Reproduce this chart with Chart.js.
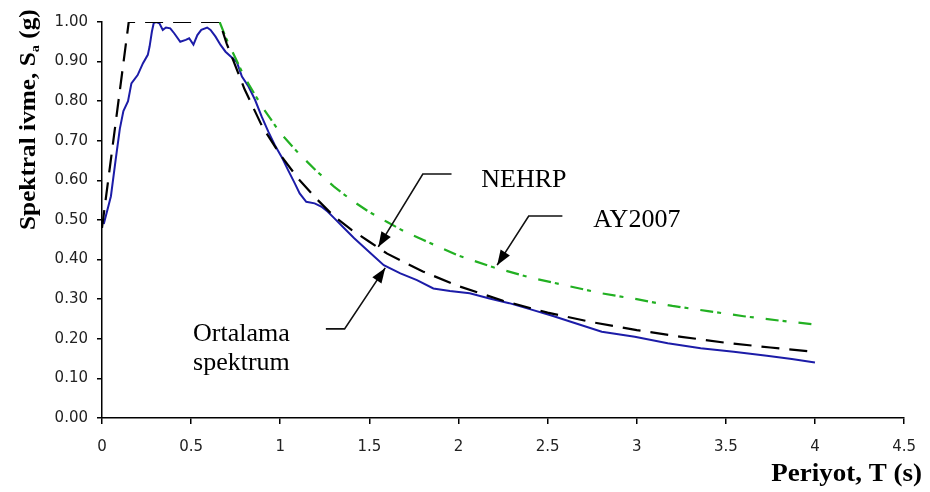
<!DOCTYPE html>
<html>
<head>
<meta charset="utf-8">
<title>Spektral ivme</title>
<script src="https://cdn.jsdelivr.net/npm/chart.js@4"></script>
<style>
  html, body { margin: 0; padding: 0; background: #fff; }
  #wrap { width: 930px; height: 492px; }
</style>
</head>
<body>
<div id="wrap"><canvas id="spectrum" width="930" height="492"></canvas></div>
<script>
// Ortalama spektrum (mean spectrum)
const meanT  = [0.01, 0.05, 0.076, 0.10, 0.12, 0.146, 0.165, 0.20, 0.23, 0.257, 0.267, 0.28, 0.29, 0.304,
                0.322, 0.341, 0.359, 0.383, 0.406, 0.439, 0.47, 0.489, 0.513, 0.535, 0.557, 0.59, 0.609,
                0.637, 0.665, 0.693, 0.73, 0.757, 0.785, 0.822, 0.859, 0.896, 0.933, 0.97, 1.007, 1.044,
                1.081, 1.109, 1.146, 1.193, 1.23, 1.267, 1.304, 1.359, 1.415, 1.507, 1.581, 1.674, 1.767,
                1.859, 1.952, 2.063, 2.174, 2.285, 2.40, 2.526, 2.63, 2.804, 2.989, 3.174, 3.359, 3.544,
                3.73, 3.87, 4.0];
const meanSa = [0.49, 0.56, 0.65, 0.73, 0.775, 0.80, 0.845, 0.866, 0.896, 0.917, 0.938, 0.976, 0.997, 1.00,
                0.997, 0.98, 0.986, 0.984, 0.971, 0.95, 0.955, 0.959, 0.943, 0.967, 0.98, 0.986, 0.98,
                0.963, 0.942, 0.925, 0.91, 0.898, 0.862, 0.837, 0.803, 0.761, 0.723, 0.689, 0.66, 0.626,
                0.593, 0.567, 0.546, 0.542, 0.534, 0.521, 0.504, 0.479, 0.454, 0.416, 0.386, 0.365, 0.348,
                0.327, 0.321, 0.315, 0.302, 0.29, 0.275, 0.258, 0.243, 0.218, 0.205, 0.189, 0.176, 0.167,
                0.157, 0.149, 0.14];

// NEHRP design spectrum
const nehrpT  = [0, 0.15, 0.66, 0.7, 0.8, 0.9, 1.0, 1.1, 1.2, 1.3, 1.4, 1.5, 1.6, 1.8, 2.0, 2.25, 2.5, 2.75,
                 3.0, 3.25, 3.5, 3.75, 4.0];
const nehrpSa = [0.48, 1.00, 1.00, 0.945, 0.83, 0.735, 0.665, 0.605, 0.555, 0.51, 0.475, 0.445, 0.415, 0.37,
                 0.333, 0.296, 0.266, 0.242, 0.222, 0.205, 0.19, 0.178, 0.167];

// AY2007 design spectrum
const ayT  = [0.66, 0.7, 0.8, 0.9, 1.0, 1.1, 1.2, 1.3, 1.4, 1.5, 1.6, 1.7, 1.8, 1.9, 2.0, 2.2, 2.4, 2.6, 2.8,
              3.0, 3.2, 3.4, 3.6, 3.8, 4.0];
const aySa = [1.00, 0.955, 0.86, 0.785, 0.72, 0.67, 0.625, 0.585, 0.55, 0.52, 0.495, 0.47, 0.45, 0.43, 0.41,
              0.38, 0.355, 0.335, 0.315, 0.30, 0.283, 0.27, 0.257, 0.246, 0.236];

// Axis limits and tick steps
const xRange = [0, 4.5];
const xStep = 0.5;
const yRange = [0, 1];
const yStep = 0.1;

// Callout labels: text lines, leader line points (data units), arrow tip last
const callouts = [
  { lines: ['NEHRP'], textAt: [2.128, 0.583], lineGap: 0, path: [[1.961, 0.616], [1.80, 0.616], [1.55, 0.432]] },
  { lines: ['AY2007'], textAt: [2.756, 0.483], lineGap: 0, path: [[2.583, 0.51], [2.394, 0.51], [2.217, 0.386]] },
  { lines: ['Ortalama', 'spektrum'], textAt: [0.511, 0.194], lineGap: 0.073, path: [[1.256, 0.225], [1.361, 0.225], [1.589, 0.379]] }
];

const toPoints = (xs, ys) => xs.map((t, i) => ({ x: t, y: ys[i] }));

function drawStretched(ctx, str, px, py, sx) {
  ctx.save();
  ctx.translate(px, py);
  ctx.scale(sx, 1);
  ctx.fillText(str, 0, 0);
  ctx.restore();
}

const decorations = {
  id: 'decorations',
  afterDraw(chart) {
    const { ctx, scales: { x, y } } = chart;
    ctx.save();
    ctx.fillStyle = '#000';
    ctx.strokeStyle = '#111';

    // callouts with arrows
    callouts.forEach(c => {
      const pts = c.path.map(p => [x.getPixelForValue(p[0]), y.getPixelForValue(p[1])]);
      ctx.lineWidth = 1.6;
      ctx.beginPath();
      ctx.moveTo(pts[0][0], pts[0][1]);
      for (let i = 1; i < pts.length; i++) ctx.lineTo(pts[i][0], pts[i][1]);
      ctx.stroke();
      const [tx, ty] = pts[pts.length - 1];
      const [px, py] = pts[pts.length - 2];
      const ang = Math.atan2(ty - py, tx - px);
      const len = 15, half = 5.5;
      ctx.beginPath();
      ctx.moveTo(tx, ty);
      ctx.lineTo(tx - len * Math.cos(ang) + half * Math.sin(ang), ty - len * Math.sin(ang) - half * Math.cos(ang));
      ctx.lineTo(tx - len * Math.cos(ang) - half * Math.sin(ang), ty - len * Math.sin(ang) + half * Math.cos(ang));
      ctx.closePath();
      ctx.fill();

      ctx.font = '26px "Liberation Serif", "Times New Roman", serif';
      ctx.textAlign = 'left';
      ctx.textBaseline = 'alphabetic';
      c.lines.forEach((ln, i) => {
        const lx = x.getPixelForValue(c.textAt[0]);
        const ly = y.getPixelForValue(c.textAt[1] - i * c.lineGap);
        drawStretched(ctx, ln, lx, ly, 1.0);
      });
    });

    // x axis title
    ctx.font = 'bold 25px "Liberation Serif", "Times New Roman", serif';
    ctx.textAlign = 'right';
    ctx.textBaseline = 'alphabetic';
    drawStretched(ctx, 'Periyot, T (s)', 922, 481, 1.08);

    // y axis title with subscript a
    ctx.save();
    ctx.translate(35, 230);
    ctx.rotate(-Math.PI / 2);
    ctx.scale(1.1, 1);
    ctx.textAlign = 'left';
    ctx.font = 'bold 23px "Liberation Serif", "Times New Roman", serif';
    const part1 = 'Spektral ivme, S';
    ctx.fillText(part1, 0, 0);
    const w1 = ctx.measureText(part1).width;
    ctx.font = 'bold 13px "Liberation Serif", "Times New Roman", serif';
    ctx.fillText('a', w1, 4);
    const w2 = ctx.measureText('a').width;
    ctx.font = 'bold 23px "Liberation Serif", "Times New Roman", serif';
    ctx.fillText(' (g)', w1 + w2, 0);
    ctx.restore();

    ctx.restore();
  }
};

new Chart(document.getElementById('spectrum'), {
  type: 'line',
  data: {
    datasets: [
      {
        label: 'NEHRP',
        data: toPoints(nehrpT, nehrpSa),
        borderColor: '#000',
        borderWidth: 2.2,
        borderDash: [18, 10],
        order: 0
      },
      {
        label: 'AY2007',
        data: toPoints(ayT, aySa),
        borderColor: '#22b022',
        borderWidth: 2.2,
        borderDash: [13, 4, 4, 12],
        order: 1
      },
      {
        label: 'Ortalama spektrum',
        data: toPoints(meanT, meanSa),
        borderColor: '#1c1ca8',
        borderWidth: 2,
        order: 2
      }
    ]
  },
  options: {
    responsive: false,
    animation: false,
    layout: { padding: { top: 22, right: 18, left: 0, bottom: 0 } },
    elements: {
      point: { radius: 0 },
      line: { tension: 0, fill: false }
    },
    plugins: {
      legend: { display: false },
      tooltip: { enabled: false }
    },
    scales: {
      x: {
        type: 'linear',
        min: xRange[0],
        max: xRange[1],
        afterFit: s => { s.height = 74; },
        grid: { display: true, drawOnChartArea: false, drawTicks: true, tickLength: 6, color: '#000', lineWidth: 1.5 },
        border: { display: true, color: '#000', width: 1.5 },
        ticks: {
          stepSize: xStep,
          padding: 14,
          color: '#222',
          font: { family: '"DejaVu Sans", sans-serif', size: 15 },
          maxRotation: 0,
          callback: v => String(v)
        }
      },
      y: {
        min: yRange[0],
        max: yRange[1],
        afterFit: s => { s.width = 102; },
        grid: { display: true, drawOnChartArea: false, drawTicks: true, tickLength: 5, color: '#000', lineWidth: 1.5 },
        border: { display: true, color: '#000', width: 1.5 },
        ticks: {
          stepSize: yStep,
          padding: 9,
          color: '#222',
          font: { family: '"DejaVu Sans", sans-serif', size: 15 },
          callback: v => v.toFixed(2)
        }
      }
    }
  },
  plugins: [decorations]
});
</script>
</body>
</html>
